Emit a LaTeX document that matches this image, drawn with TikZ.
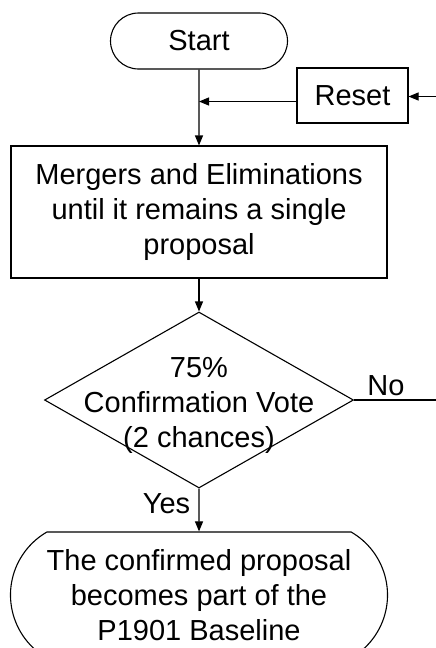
\documentclass[tikz,border=0pt]{standalone}
\usepackage{fontspec}
\setmainfont{Liberation Sans}
\usetikzlibrary{shapes.misc,shapes.geometric,arrows.meta}
\begin{document}
\begin{tikzpicture}[x=1pt,y=-1pt,line width=1.1pt,>={Triangle[length=10pt,width=8pt]},
    every node/.style={font=\fontsize{29}{35}\selectfont},
    term node/.style={rounded rectangle,draw,inner sep=0pt},
    box node/.style={rectangle,draw,align=center,inner sep=0pt},
    decision node/.style={diamond,draw,inner sep=0pt,minimum width=309pt,minimum height=176pt}]
    \useasboundingbox (0,0) rectangle (436,648);
    \node[term node,minimum width=177pt,minimum height=56pt] at (199,41) (start) {Start};
    \node[box node,minimum width=111pt,minimum height=55pt] at (352.5,95.5) (reset) {Reset};
    \coordinate (resetin) at (436,96.5);
    \coordinate (resetout) at (297,101.5);
    \node[box node,minimum width=376pt,minimum height=132pt] at (199,212) (merge) {Mergers and Eliminations\\until it remains a single\\proposal};
    \node[decision node] at (199,400) (vote) {};
    \node[align=center] at (199,405) (votetext) {75\%\\Confirmation Vote\\(2 chances)};
    \coordinate (noout) at (436,400);
    \node[term node,align=center,rounded rectangle arc length=120,minimum width=377pt,minimum height=126pt] at (199,595) (final) {The confirmed proposal\\becomes part of the\\P1901 Baseline};

    \path[->] (resetin) edge (resetin -| reset.east);
    \path[->] (resetout) edge (resetout -| start.south);
    \path[->] (start) edge (merge);
    \path[->] (merge) edge (vote);
    \path[->] (vote) edge node[left,pos=0.35,xshift=-5pt] {Yes} (final);
    \path (vote.east) edge node[above,pos=0.39] {No} (noout);
\end{tikzpicture}
\end{document}
